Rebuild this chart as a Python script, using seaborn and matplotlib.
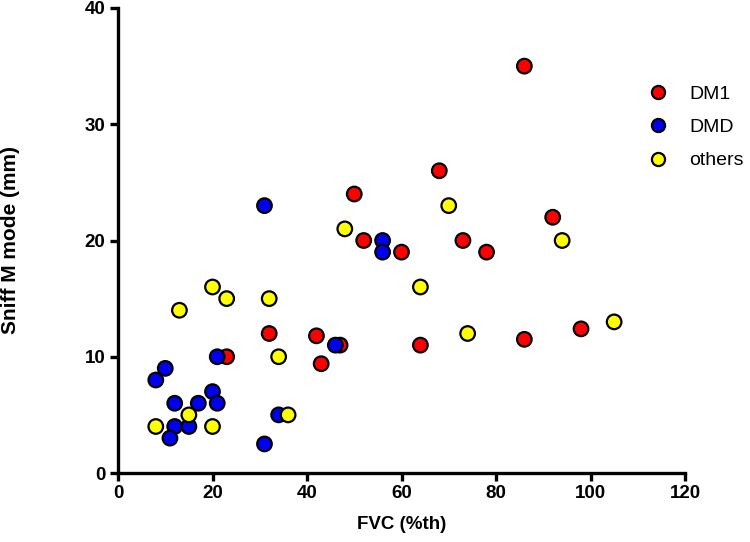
import matplotlib
matplotlib.use("Agg")
import matplotlib.pyplot as plt
import seaborn as sns
import pandas as pd

dm1_fvc = [86, 68, 50, 92, 52, 73, 60, 78, 32, 42, 23, 47, 43, 64, 86, 98]
dm1_sniff = [35, 26, 24, 22, 20, 20, 19, 19, 12, 11.8, 10, 11, 9.4, 11, 11.5, 12.4]

dmd_fvc = [31, 56, 56, 21, 46, 10, 8, 12, 17, 20, 21, 12, 15, 11, 34, 31]
dmd_sniff = [23, 20, 19, 10, 11, 9, 8, 6, 6, 7, 6, 4, 4, 3, 5, 2.5]

oth_fvc = [70, 48, 94, 64, 20, 23, 32, 13, 74, 105, 34, 15, 36, 8, 20]
oth_sniff = [23, 21, 20, 16, 16, 15, 15, 14, 12, 13, 10, 5, 5, 4, 4]

groups = ["DM1", "DMD", "others"]
colors = ["#FF0000", "#0000F0", "#FFFF00"]

df = pd.concat([
    pd.DataFrame({"FVC": dm1_fvc, "Sniff": dm1_sniff, "group": "DM1"}),
    pd.DataFrame({"FVC": dmd_fvc, "Sniff": dmd_sniff, "group": "DMD"}),
    pd.DataFrame({"FVC": oth_fvc, "Sniff": oth_sniff, "group": "others"}),
], ignore_index=True)

sns.set_style("ticks")
plt.rcParams["font.family"] = ["Liberation Sans", "DejaVu Sans"]
plt.rcParams.update({
    "text.color": "black", "axes.labelcolor": "black", "axes.edgecolor": "black",
    "xtick.color": "black", "ytick.color": "black",
})

fig = plt.figure(figsize=(7.5, 5.42), dpi=100)
ax = fig.add_axes([118/750, 1-473/542, (685-118)/750, (473-8)/542])

sns.scatterplot(data=df, x="FVC", y="Sniff", hue="group", hue_order=groups,
                palette=dict(zip(groups, colors)), s=110, edgecolor="black",
                linewidth=1.6, ax=ax, zorder=3, clip_on=False)

ax.set_xlim(0, 120)
ax.set_ylim(0, 40)
ax.set_xticks(range(0, 121, 20))
ax.set_yticks(range(0, 41, 10))
for s in ["top", "right"]:
    ax.spines[s].set_visible(False)
for s in ["left", "bottom"]:
    ax.spines[s].set_linewidth(2.4)
ax.tick_params(width=2.4, length=6, labelsize=13.5, direction="out", pad=3)
for lab in ax.get_xticklabels() + ax.get_yticklabels():
    lab.set_fontweight("bold")
ax.set_xlabel("FVC (%th)", fontsize=13.5, fontweight="bold", labelpad=10)
ax.set_ylabel("Sniff M mode (mm)", fontsize=15, fontweight="bold")
ax.yaxis.set_label_coords(-0.172, 0.5)

handles, labels = ax.get_legend_handles_labels()
ax.legend(handles, labels, frameon=False, fontsize=14, loc="upper left",
          bbox_to_anchor=(629/750, 1-68/542), bbox_transform=fig.transFigure,
          handletextpad=1.0, labelspacing=0.8, markerscale=0.9, handlelength=1.2)

fig.savefig("out.png", dpi=100)
